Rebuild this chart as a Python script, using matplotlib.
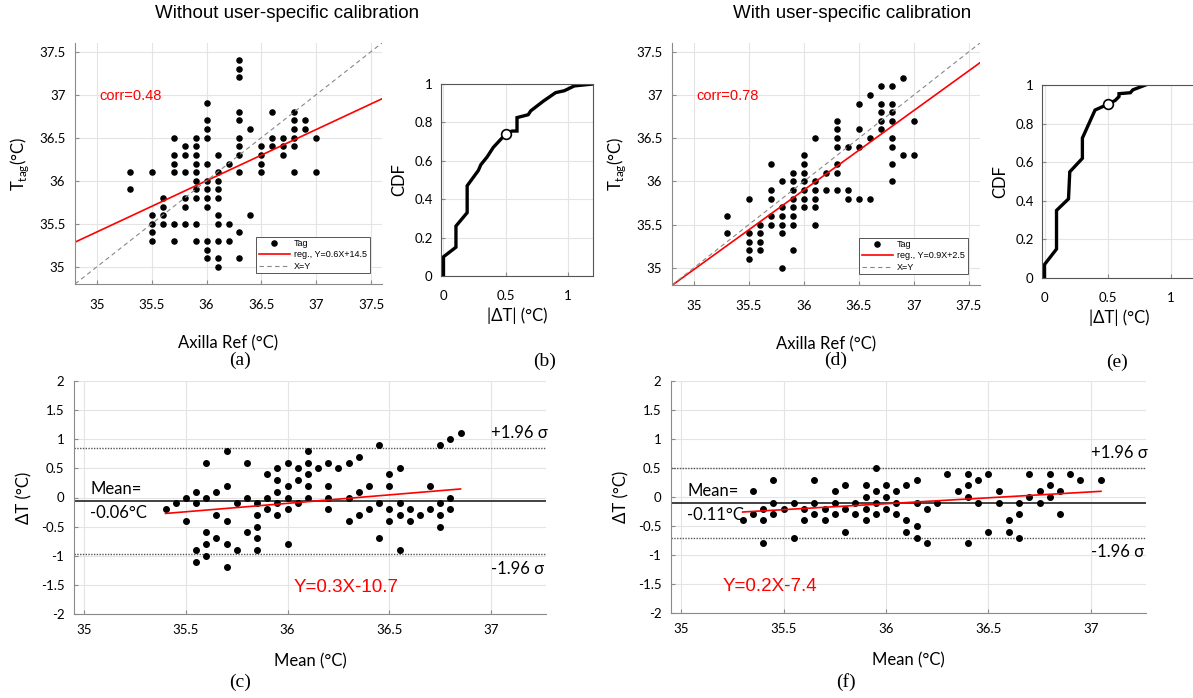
import numpy as np
import matplotlib
matplotlib.use('Agg')
import matplotlib.pyplot as plt

plt.rcParams['font.family'] = ['Lato', 'DejaVu Sans']
plt.rcParams['axes.unicode_minus'] = False
plt.rcParams['mathtext.fontset'] = 'custom'
plt.rcParams['mathtext.rm'] = 'Lato'

# ---------------- données ----------------
# (a) sans calibration : Tag vs Axilla, regroupé par colonne x
a_x_cols = [35.3, 35.5, 35.6, 35.7, 35.8, 35.9, 36.0, 36.1, 36.2, 36.3, 36.4, 36.5, 36.6, 36.7, 36.8, 36.9, 37.0]
a_y_cols = [
    [36.1, 35.9],
    [36.1, 35.6, 35.5, 35.4, 35.3],
    [35.8, 35.7, 35.6, 35.5],
    [36.5, 36.3, 36.2, 36.1, 35.5, 35.3],
    [36.4, 36.3, 36.1, 35.8, 35.7, 35.5],
    [36.5, 36.4, 36.3, 36.2, 36.1, 36.0, 35.9, 35.8, 35.5, 35.3],
    [36.9, 36.7, 36.6, 36.5, 36.2, 36.0, 35.9, 35.8, 35.7, 35.3, 35.2, 35.1],
    [36.3, 36.1, 36.0, 35.9, 35.8, 35.6, 35.5, 35.3, 35.1, 35.0],
    [36.2, 35.5, 35.3],
    [37.4, 37.3, 37.2, 36.8, 36.7, 36.5, 36.4, 36.3, 36.1, 35.4, 35.1],
    [36.6, 35.6],
    [36.4, 36.3, 36.2, 36.1],
    [36.8, 36.5, 36.4],
    [36.5, 36.4, 36.3],
    [36.8, 36.7, 36.6, 36.5, 36.4, 36.1],
    [36.7, 36.6],
    [36.5, 36.1],
]
a_reg = (0.595, 14.58)

# (d) avec calibration
d_x_cols = [35.3, 35.5, 35.6, 35.7, 35.8, 35.9, 36.0, 36.1, 36.2, 36.3, 36.4, 36.5, 36.6, 36.7, 36.8, 36.9, 37.0]
d_y_cols = [
    [35.6, 35.4],
    [35.8, 35.4, 35.3, 35.2, 35.1],
    [35.5, 35.4, 35.3, 35.2],
    [36.2, 35.9, 35.8, 35.6, 35.5],
    [36.0, 35.7, 35.6, 35.5, 35.4, 35.0],
    [36.1, 36.0, 35.9, 35.8, 35.7, 35.6, 35.5, 35.2],
    [36.3, 36.2, 36.1, 36.0, 35.9, 35.8, 35.7],
    [36.5, 36.0, 35.9, 35.8, 35.7, 35.5],
    [36.1, 35.9],
    [36.7, 36.6, 36.5, 36.4, 36.2, 36.1, 35.9],
    [36.4, 35.9, 35.8],
    [36.9, 36.6, 36.4, 35.8],
    [37.0, 36.5, 35.8],
    [37.1, 36.9, 36.8, 36.7, 36.6],
    [37.1, 36.9, 36.8, 36.7, 36.5, 36.4, 36.2, 36.0],
    [37.2, 36.3],
    [36.7, 36.3],
]
d_reg = (0.92, 2.78)

# (b) et (e) : CDF de |dT|
b_cdf_x = [0, 0, 0.1, 0.1, 0.19, 0.19, 0.28, 0.3, 0.35, 0.4, 0.5, 0.55, 0.59, 0.59, 0.68, 0.7, 0.8, 0.9, 0.97, 1.05, 1.2]
b_cdf_y = [0, 0.1, 0.15, 0.26, 0.33, 0.47, 0.55, 0.58, 0.62, 0.67, 0.74, 0.755, 0.755, 0.825, 0.84, 0.86, 0.91, 0.955, 0.965, 0.99, 1.0]
b_point = (0.5, 0.74)
e_cdf_x = [0, 0, 0.095, 0.095, 0.19, 0.2, 0.3, 0.3, 0.4, 0.45, 0.5, 0.56, 0.59, 0.59, 0.68, 0.7, 0.8]
e_cdf_y = [0, 0.07, 0.15, 0.35, 0.41, 0.55, 0.62, 0.725, 0.87, 0.885, 0.9, 0.92, 0.94, 0.955, 0.96, 0.975, 1.0]
e_point = (0.5, 0.9)

# (c) Bland-Altman sans calibration
c_x_cols = [35.40, 35.45, 35.50, 35.55, 35.60, 35.65, 35.70, 35.75, 35.80, 35.85, 35.90, 35.95, 36.00, 36.05, 36.10,
            36.15, 36.20, 36.25, 36.30, 36.35, 36.40, 36.45, 36.50, 36.55, 36.60, 36.65, 36.70, 36.75, 36.80, 36.85]
c_y_cols = [
    [-0.2], [-0.1], [0.0, -0.4], [0.1, -0.1, -0.9, -1.1], [0.6, 0.0, -0.6, -0.8, -1.0],
    [0.1, -0.3, -0.7], [0.8, 0.2, -0.4, -0.8, -1.2], [-0.1, -0.9], [0.6, 0.0, -0.6],
    [-0.1, -0.3, -0.5, -0.7, -0.9], [0.4, 0.0, -0.2], [0.5, 0.3, 0.1, -0.1, -0.3],
    [0.6, 0.2, 0.0, -0.2, -0.8], [0.5, 0.3, -0.1], [0.8, 0.6, 0.4, 0.2, 0.0], [0.5],
    [0.6, 0.2, 0.0, -0.2], [0.5], [0.6, 0.0, -0.4], [0.7, 0.1, -0.3], [0.2, -0.2],
    [0.9, -0.1, -0.7], [0.4, 0.2, -0.2, -0.4], [0.5, -0.1, -0.3, -0.9], [-0.2, -0.4],
    [-0.3], [0.2, -0.2], [0.9, -0.1, -0.3, -0.5], [1.0, 0.0, -0.2], [1.1],
]
c_mean, c_upper, c_lower = -0.06, 0.85, -0.97
c_reg = (0.29, -10.54)

# (f) Bland-Altman avec calibration
f_x_cols = [35.30, 35.35, 35.40, 35.45, 35.50, 35.55, 35.60, 35.65, 35.70, 35.75, 35.80, 35.85, 35.90, 35.95,
            36.00, 36.05, 36.10, 36.15, 36.20, 36.25, 36.30, 36.35, 36.40, 36.45, 36.50, 36.55, 36.60, 36.65,
            36.70, 36.75, 36.80, 36.85, 36.90, 36.95, 37.05]
f_y_cols = [
    [-0.4], [0.1, -0.3], [-0.2, -0.4, -0.8], [0.3, -0.1, -0.3], [-0.2], [-0.1, -0.7],
    [-0.2, -0.4], [0.3, -0.1, -0.3], [-0.2, -0.4], [0.1, -0.1, -0.3], [0.2, -0.2, -0.6],
    [-0.1, -0.3], [0.2, 0.0, -0.2, -0.4], [0.5, 0.1, -0.1, -0.3], [0.2, 0.0, -0.2],
    [0.1, -0.1, -0.3], [0.2, -0.4, -0.6], [0.3, -0.1, -0.5, -0.7], [-0.2, -0.8], [-0.1],
    [0.4], [0.1], [0.4, 0.2, 0.0, -0.8], [0.3, -0.1], [0.4, -0.6], [0.1, -0.1],
    [-0.4, -0.6], [-0.1, -0.3, -0.7], [0.4, 0.0], [0.1, -0.1], [0.4, 0.2, 0.0],
    [0.1, -0.3], [0.4], [0.3], [0.3],
]
f_mean, f_upper, f_lower = -0.10, 0.50, -0.70
f_reg = (0.204, -7.46)


def flatten(xc, yc):
    xs = [x for x, ys in zip(xc, yc) for _ in ys]
    ys = [y for ys in yc for y in ys]
    return np.array(xs), np.array(ys)


W, H = 1193, 698
fig = plt.figure(figsize=(W / 100, H / 100), dpi=100)


def rect(x0, y0, x1, y1):  # pixels -> fraction
    return [x0 / W, 1 - y1 / H, (x1 - x0) / W, (y1 - y0) / H]


GRID = '#e4e4e4'
SPINE = '#8a8a8a'
arial = 'Liberation Sans'


def style(ax, box=False):
    ax.grid(True, color=GRID, lw=0.8)
    ax.set_axisbelow(True)
    for s in ax.spines.values():
        s.set_color(SPINE)
        s.set_linewidth(0.8)
    if not box:
        ax.spines['top'].set_visible(False)
        ax.spines['right'].set_visible(False)
    ax.tick_params(direction='in', length=3, color=SPINE, labelsize=9.5)


# ---------- scatter (a) / (d) ----------
def scatter_panel(r, xc, yc, reg, corr, leg_label):
    ax = fig.add_axes(r)
    style(ax)
    x, y = flatten(xc, yc)
    lim = (34.8, 37.6)
    ax.plot(x, y, 'o', color='black', ms=3.7, ls='none', label='Tag')
    xx = np.array(lim)
    ax.plot(xx, reg[0] * xx + reg[1], color='red', lw=1.2, label=leg_label)
    ax.plot(xx, xx, '--', color='#888888', lw=0.8, dashes=(4, 3), label='X=Y')
    ax.set_xlim(lim)
    ax.set_ylim(lim)
    ticks = [35, 35.5, 36, 36.5, 37, 37.5]
    ax.set_xticks(ticks)
    ax.set_yticks(ticks)
    ax.set_xticklabels(['35', '35.5', '36', '36.5', '37', '37.5'])
    ax.set_yticklabels(['35', '35.5', '36', '36.5', '37', '37.5'])
    ax.tick_params(axis='x', pad=11)
    ax.tick_params(axis='y', pad=7)
    ax.set_xlabel('Axilla Ref (°C)', fontsize=12, labelpad=17)
    ax.set_ylabel(r'T$_{\mathrm{tag}}$(°C)', fontsize=12, labelpad=6)
    ax.text(0.08, 0.78, corr, transform=ax.transAxes, color='red', fontsize=10.5,
            family=arial, va='center')
    leg = ax.legend(loc='lower right', bbox_to_anchor=(0.975, 0.025),
                    prop={'family': arial, 'size': 6.5}, handlelength=3.4,
                    fancybox=False, framealpha=1, edgecolor='#555555',
                    borderpad=0.3, labelspacing=0.25, handletextpad=0.5)
    leg.get_frame().set_linewidth(0.7)
    return ax


scatter_panel(rect(75, 43, 382, 284), a_x_cols, a_y_cols, a_reg, 'corr=0.48', 'reg., Y=0.6X+14.5')
scatter_panel(rect(672, 43, 980, 285), d_x_cols, d_y_cols, d_reg, 'corr=0.78', 'reg., Y=0.9X+2.5')


# ---------- CDF (b) / (e) ----------
def cdf_panel(r, cx, cy, pt):
    ax = fig.add_axes(r)
    style(ax, box=True)
    for s in ax.spines.values():
        s.set_color('#555555')
    ax.plot(cx, cy, color='black', lw=2.4, solid_joinstyle='miter')
    ax.plot([pt[0]], [pt[1]], 'o', ms=7, mfc='white', mec='black', mew=1.2)
    ax.set_xlim(-0.02, 1.2)
    ax.set_ylim(0, 1)
    ax.set_xticks([0, 0.5, 1])
    ax.set_xticklabels(['0', '0.5', '1'])
    ax.set_yticks([0, 0.2, 0.4, 0.6, 0.8, 1])
    ax.set_yticklabels(['0', '0.2', '0.4', '0.6', '0.8', '1'])
    ax.tick_params(axis='x', pad=10)
    ax.tick_params(axis='y', pad=6)
    ax.set_xlabel('|ΔT| (°C)', fontsize=12, labelpad=4)
    ax.set_ylabel('CDF', fontsize=12, labelpad=5)
    return ax


cdf_panel(rect(441, 84, 593, 276), b_cdf_x, b_cdf_y, b_point)
cdf_panel(rect(1042, 85, 1196, 278), e_cdf_x, e_cdf_y, e_point)


# ---------- Bland-Altman (c) / (f) ----------
def ba_panel(r, xc, yc, mean, up, low, reg, reg_x, mean_txt, eq, eq_pos):
    ax = fig.add_axes(r)
    style(ax)
    x, y = flatten(xc, yc)
    ax.axhline(mean, color='#333333', lw=1.3)
    ax.axhline(up, color='#555555', lw=1.0, ls=(0, (1, 1)))
    ax.axhline(low, color='#555555', lw=1.0, ls=(0, (1, 1)))
    ax.plot(x, y, 'o', color='black', ms=4, ls='none')
    xx = np.array(reg_x)
    ax.plot(xx, reg[0] * xx + reg[1], color='red', lw=1.2)
    ax.set_xlim(34.95, 37.27)
    ax.set_ylim(-2, 2)
    ax.set_xticks([35, 35.5, 36, 36.5, 37])
    ax.set_xticklabels(['35', '35.5', '36', '36.5', '37'])
    yt = [-2, -1.5, -1, -0.5, 0, 0.5, 1, 1.5, 2]
    ax.set_yticks(yt)
    ax.set_yticklabels(['-2', '-1.5', '-1', '-0.5', '0', '0.5', '1', '1.5', '2'])
    ax.tick_params(axis='x', pad=7)
    ax.tick_params(axis='y', pad=7)
    ax.set_xlabel('Mean (°C)', fontsize=12, labelpad=13)
    ax.set_ylabel('ΔT (°C)', fontsize=12, labelpad=6)
    ax.text(35.03, mean + 0.07, 'Mean=', fontsize=12, va='bottom', ha='left')
    ax.text(35.03, mean - 0.07, mean_txt, fontsize=12, va='top', ha='left')
    ax.text(37.0, up + 0.25, '+1.96 σ', fontsize=12, va='center', ha='left')
    ax.text(37.0, low - 0.25, '-1.96 σ', fontsize=12, va='center', ha='left')
    ax.text(eq_pos[0], eq_pos[1], eq, color='red', fontsize=13.5, family=arial, va='center', ha='left')
    return ax


ba_panel(rect(74, 381, 546, 614), c_x_cols, c_y_cols, c_mean, c_upper, c_lower, c_reg,
         (35.40, 36.85), '-0.06°C', 'Y=0.3X-10.7', (36.03, -1.55))
ba_panel(rect(671, 381, 1146, 613), f_x_cols, f_y_cols, f_mean, f_upper, f_lower, f_reg,
         (35.30, 37.05), '-0.11°C', 'Y=0.2X-7.4', (35.2, -1.55))

# ---------- titres et lettres ----------
fig.text(287 / W, 1 - 14 / H, 'Without user-specific calibration', fontsize=13.5, family=arial,
         ha='center', va='center')
fig.text(852 / W, 1 - 14 / H, 'With user-specific calibration', fontsize=13.5, family=arial,
         ha='center', va='center')
serif = 'Liberation Serif'
for lab, px, py in [('(a)', 240, 360), ('(b)', 545, 361), ('(d)', 836, 360), ('(e)', 1117, 362),
                    ('(c)', 240, 682), ('(f)', 846, 682)]:
    fig.text(px / W, 1 - py / H, lab, fontsize=14, family=serif, ha='center', va='center')

fig.savefig('out.png', dpi=100)
